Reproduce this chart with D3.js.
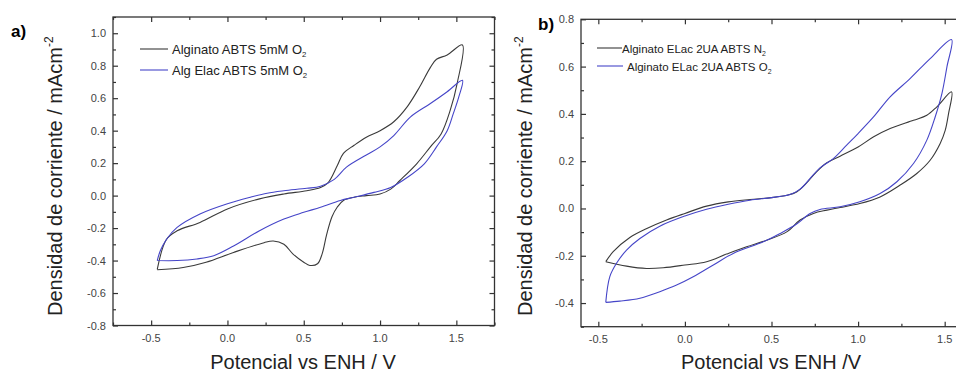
<!DOCTYPE html>
<html><head><meta charset="utf-8">
<script src="https://cdn.jsdelivr.net/npm/d3@7"></script>
<style>
html,body{margin:0;padding:0;background:#fff;}
svg{display:block;font-family:"Liberation Sans",Arial,sans-serif;}
</style></head>
<body>
<svg id="chart" width="956" height="372"></svg>
<script>
// ---------- DATA ----------
// Panel a) Alginato ABTS 5mM O2 (potential V, current density mA cm^-2)
const aBlackX = [-0.46,-0.40,-0.33,-0.18,0.00,0.21,0.37,0.52,0.61,0.66,0.72,0.76,0.83,0.91,1.00,1.09,1.18,1.26,1.33,1.37,1.44,1.54,
                 1.505,1.46,1.40,1.33,1.24,1.13,1.07,1.00,0.91,0.83,0.76,0.72,0.685,0.65,0.62,0.59,0.54,0.50,0.43,0.37,0.30,0.24,0.04,-0.14,-0.29,-0.46];
const aBlackY = [-0.455,-0.27,-0.217,-0.165,-0.082,-0.02,0.01,0.03,0.05,0.08,0.185,0.26,0.31,0.36,0.40,0.455,0.55,0.67,0.79,0.84,0.866,0.928,
                 0.69,0.526,0.38,0.30,0.196,0.093,0.04,0.01,0.0,-0.01,-0.03,-0.07,-0.13,-0.24,-0.36,-0.42,-0.43,-0.41,-0.36,-0.30,-0.28,-0.29,-0.35,-0.41,-0.443,-0.457];
// Panel a) Alg Elac ABTS 5mM O2
const aBlueX = [-0.46,-0.44,-0.40,-0.33,-0.18,0.00,0.15,0.26,0.37,0.52,0.61,0.70,0.78,0.91,1.00,1.09,1.20,1.33,1.44,1.54,
                1.516,1.48,1.44,1.37,1.29,1.18,1.07,0.96,0.83,0.74,0.61,0.50,0.37,0.21,0.04,-0.09,-0.20,-0.33,-0.46];
const aBlueY = [-0.40,-0.34,-0.27,-0.196,-0.113,-0.05,-0.01,0.015,0.03,0.045,0.058,0.10,0.175,0.25,0.30,0.37,0.485,0.567,0.64,0.71,
                0.608,0.505,0.40,0.30,0.196,0.113,0.05,0.02,-0.01,-0.03,-0.072,-0.103,-0.144,-0.216,-0.31,-0.37,-0.39,-0.40,-0.40];
// Panel b) Alginato ELac 2UA ABTS N2
const bBlackX = [-0.457,-0.414,-0.318,-0.22,-0.106,0.00,0.125,0.25,0.376,0.50,0.59,0.645,0.703,0.76,0.82,0.896,1.00,1.09,1.185,1.32,1.397,1.455,1.54,
                 1.522,1.503,1.474,1.416,1.339,1.243,1.127,1.01,0.896,0.82,0.742,0.665,0.588,0.472,0.356,0.24,0.125,0.00,-0.125,-0.222,-0.337,-0.457];
const bBlackY = [-0.225,-0.183,-0.123,-0.085,-0.049,-0.021,0.01,0.028,0.038,0.046,0.056,0.07,0.108,0.155,0.193,0.221,0.26,0.303,0.338,0.373,0.394,0.43,0.493,
                 0.40,0.33,0.275,0.204,0.148,0.099,0.049,0.021,0.004,-0.007,-0.021,-0.049,-0.099,-0.134,-0.162,-0.193,-0.225,-0.239,-0.251,-0.254,-0.244,-0.225];
// Panel b) Alginato ELac 2UA ABTS O2
const bBlueX = [-0.457,-0.434,-0.395,-0.337,-0.26,-0.145,0.00,0.125,0.25,0.376,0.50,0.607,0.665,0.723,0.78,0.857,0.934,1.00,1.089,1.185,1.30,1.416,1.54,
                1.513,1.484,1.445,1.397,1.32,1.224,1.127,1.01,0.896,0.78,0.723,0.645,0.549,0.453,0.279,0.164,0.048,-0.048,-0.145,-0.26,-0.376,-0.457];
const bBlueY = [-0.397,-0.289,-0.232,-0.176,-0.127,-0.075,-0.032,-0.003,0.018,0.035,0.046,0.059,0.082,0.127,0.172,0.211,0.268,0.317,0.387,0.472,0.549,0.634,0.714,
                0.599,0.486,0.387,0.289,0.19,0.113,0.063,0.028,0.007,-0.004,-0.021,-0.066,-0.106,-0.141,-0.19,-0.239,-0.289,-0.324,-0.352,-0.38,-0.392,-0.397];

const aLegend = [["Alginato ABTS 5mM O","2"],["Alg Elac ABTS 5mM O","2"]];
const bLegend = [["Alginato ELac 2UA ABTS N","2"],["Alginato ELac 2UA ABTS O","2"]];
const xTicks = [-0.5,0.0,0.5,1.0,1.5];
const aYTicks = [-0.8,-0.6,-0.4,-0.2,0.0,0.2,0.4,0.6,0.8,1.0];
const bYTicks = [-0.4,-0.2,0.0,0.2,0.4,0.6,0.8];

const BLACK = "#3a3a3a", BLUE = "#4545c8";

const svg = d3.select("#chart");

function zip(xs, ys){ return xs.map((x,i)=>[x, ys[i]]); }

function panel(cfg){
  const x = d3.scaleLinear().domain(cfg.xDom).range([cfg.left, cfg.right]);
  const y = d3.scaleLinear().domain(cfg.yDom).range([cfg.bottom, cfg.top]);
  const g = svg.append("g");
  const W = cfg.right - cfg.left, H = cfg.bottom - cfg.top;

  // minor ticks
  const xMinor = d3.range(Math.ceil(cfg.xDom[0]/0.25)*0.25, cfg.xDom[1]+1e-9, 0.25).filter(v=>Math.abs(v/0.5-Math.round(v/0.5))>1e-6);
  const yMinor = d3.range(Math.ceil(cfg.yDom[0]/0.1)*0.1, cfg.yDom[1]+1e-9, 0.1).filter(v=>Math.abs(v/0.2-Math.round(v/0.2))>1e-6);

  const axStyle = sel => { sel.select(".domain").remove(); sel.selectAll("line").attr("stroke","#333").attr("stroke-width",1.2); sel.selectAll("text").remove(); };
  // bottom
  g.append("g").attr("transform",`translate(0,${cfg.bottom})`).call(d3.axisTop(x).tickValues(xTicks).tickSize(5)).call(axStyle);
  g.append("g").attr("transform",`translate(0,${cfg.bottom})`).call(d3.axisTop(x).tickValues(xMinor).tickSize(3)).call(axStyle);
  // top
  g.append("g").attr("transform",`translate(0,${cfg.top})`).call(d3.axisBottom(x).tickValues(xTicks).tickSize(5)).call(axStyle);
  g.append("g").attr("transform",`translate(0,${cfg.top})`).call(d3.axisBottom(x).tickValues(xMinor).tickSize(3)).call(axStyle);
  // left
  g.append("g").attr("transform",`translate(${cfg.left},0)`).call(d3.axisRight(y).tickValues(cfg.yTicks).tickSize(5)).call(axStyle);
  g.append("g").attr("transform",`translate(${cfg.left},0)`).call(d3.axisRight(y).tickValues(yMinor).tickSize(3)).call(axStyle);
  // right
  g.append("g").attr("transform",`translate(${cfg.right},0)`).call(d3.axisLeft(y).tickValues(cfg.yTicks).tickSize(5)).call(axStyle);
  g.append("g").attr("transform",`translate(${cfg.right},0)`).call(d3.axisLeft(y).tickValues(yMinor).tickSize(3)).call(axStyle);

  // frame
  g.append("rect").attr("x",cfg.left).attr("y",cfg.top).attr("width",W).attr("height",H)
    .attr("fill","none").attr("stroke","#333").attr("stroke-width",1.3);

  // tick labels
  g.selectAll(".xl").data(xTicks).enter().append("text")
    .attr("x",d=>x(d)).attr("y",cfg.bottom+16).attr("text-anchor","middle")
    .attr("font-size",11).attr("fill","#444").text(d=>d3.format(".1f")(d).replace("−","-"));
  g.selectAll(".yl").data(cfg.yTicks).enter().append("text")
    .attr("x",cfg.left-7).attr("y",d=>y(d)+4).attr("text-anchor","end")
    .attr("font-size",11).attr("fill","#444").text(d=>d3.format(".1f")(d).replace("−","-"));

  // curves
  const line = d3.line().x(d=>x(d[0])).y(d=>y(d[1])).curve(d3.curveCatmullRom.alpha(0.5));
  cfg.series.forEach(s=>{
    g.append("path").datum(zip(s.xs,s.ys)).attr("d",line)
      .attr("fill","none").attr("stroke",s.color).attr("stroke-width",1.1).attr("stroke-linejoin","round");
  });

  // legend
  cfg.legend.forEach((lab,i)=>{
    const ly = cfg.legY[i];
    g.append("line").attr("x1",cfg.legX1).attr("x2",cfg.legX2[i]).attr("y1",ly).attr("y2",ly)
      .attr("stroke",cfg.series[i].color).attr("stroke-width",1.1);
    const t = g.append("text").attr("x",cfg.legTX[i]).attr("y",ly+4.5).attr("font-size",cfg.legFont).attr("fill","#222");
    t.append("tspan").text(lab[0]);
    t.append("tspan").attr("dy",3).attr("font-size",cfg.legFont*0.6).text(lab[1]);
  });

  // axis titles
  const yt = g.append("text").attr("transform",`translate(${cfg.yTitleX},${cfg.yTitleY}) rotate(-90)`)
    .attr("font-size",20).attr("fill","#222");
  yt.append("tspan").text("Densidad de corriente / mAcm");
  yt.append("tspan").attr("dy",-9).attr("font-size",12).text("-2");
  g.append("text").attr("x",cfg.xTitleX).attr("y",369).attr("text-anchor","middle")
    .attr("font-size",20).attr("fill","#222").text(cfg.xTitle);

  // panel label
  g.append("text").attr("x",cfg.labX).attr("y",cfg.labY).attr("font-size",17).attr("font-weight","bold")
    .attr("fill","#000").text(cfg.label);
}

panel({
  left:113, right:494.5, top:17, bottom:325.5,
  xDom:[-0.75,1.75], yDom:[-0.8,1.1], yTicks:aYTicks,
  series:[{xs:aBlackX,ys:aBlackY,color:BLACK},{xs:aBlueX,ys:aBlueY,color:BLUE}],
  legend:aLegend, legY:[49,70], legX1:140, legX2:[168,168], legTX:[172,172], legFont:13,
  yTitleX:62, yTitleY:316, xTitleX:303, xTitle:"Potencial vs ENH / V",
  label:"a)", labX:11, labY:37
});
panel({
  left:581, right:962, top:19.3, bottom:326.7,
  xDom:[-0.6,1.6], yDom:[-0.5,0.8], yTicks:bYTicks,
  series:[{xs:bBlackX,ys:bBlackY,color:BLACK},{xs:bBlueX,ys:bBlueY,color:BLUE}],
  legend:bLegend, legY:[48,66], legX1:597, legX2:[622,623], legTX:[622,627], legFont:11.5,
  yTitleX:532, yTitleY:316, xTitleX:771, xTitle:"Potencial vs ENH /V",
  label:"b)", labX:538, labY:30
});
</script>
</body></html>
